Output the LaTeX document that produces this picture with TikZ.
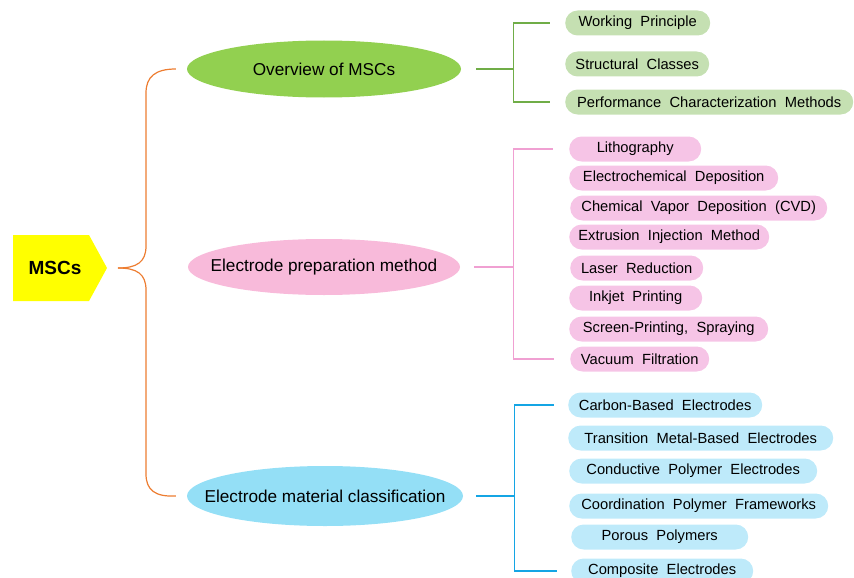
\documentclass[tikz,border=0pt]{standalone}
\usepackage{fontspec}
\setmainfont{Liberation Sans}
\usepackage{tikz}
\usetikzlibrary{shapes.geometric}

\definecolor{mscyellow}{RGB}{255,255,0}
\definecolor{bracecol}{RGB}{237,125,49}
\definecolor{ovwfill}{RGB}{146,208,80}
\definecolor{ovwleaf}{RGB}{197,224,178}
\definecolor{ovwline}{RGB}{112,173,71}
\definecolor{prepfill}{RGB}{248,186,218}
\definecolor{prepleaf}{RGB}{246,196,230}
\definecolor{prepline}{RGB}{240,160,210}
\definecolor{matfill}{RGB}{148,223,246}
\definecolor{matleaf}{RGB}{190,234,250}
\definecolor{matline}{RGB}{20,165,228}

\newcommand{\ctext}[1]{\makebox[0pt]{#1}}
\newcommand{\leaffont}{\fontsize{14.7}{16}\selectfont\spaceskip=8.3pt plus 1pt minus 1pt\relax}

\begin{document}
\begin{tikzpicture}[x=1pt,y=-1pt,
  mainnode/.style={ellipse, inner sep=0pt, minimum height=57pt, font=\fontsize{17.2}{19}\selectfont},
  leafnode/.style={anchor=west, rounded corners=12.5pt, minimum height=25pt, inner sep=0pt, font=\leaffont},
  bracelink/.style={bracecol, line width=1.2pt},
  treelink/.style={line width=1.2pt}]
\useasboundingbox (0,0) rectangle (854,578);

% root
\fill[mscyellow] (13,235) -- (89,235) -- (107,268) -- (89,301) -- (13,301) -- cycle;
\node[font=\fontsize{19}{21}\selectfont\bfseries] (msc) at (55,268) {MSCs};
\coordinate (msctip) at (118,268);

% main branches
\node[mainnode, fill=ovwfill, minimum width=274pt] (ovw) at (324,69) {\ctext{Overview of MSCs}};
\node[mainnode, fill=prepfill, minimum width=272pt, minimum height=56pt] (prep) at (324,267) {\ctext{Electrode preparation method}};
\node[mainnode, fill=matfill, minimum width=276pt, minimum height=60pt] (mat) at (325,496) {\ctext{Electrode material classification}};

\draw[bracelink] (msctip) .. controls (137,268) and (146,262) .. (146,246) -- (146,93) .. controls (146,77) and (155,69) .. ([xshift=-11pt]ovw.west);
\draw[bracelink] (msctip) .. controls (137,268) and (146,274) .. (146,290) -- (146,474) .. controls (146,490) and (155,497) .. ([xshift=-11pt]mat.west);

% overview leaves
\node[leafnode, fill=ovwleaf, minimum width=145pt] (wp) at (565,23) {Working Principle};
\node[leafnode, fill=ovwleaf, minimum width=144pt] (sc) at (565,64) {Structural Classes};
\node[leafnode, fill=ovwleaf, minimum width=288pt] (pcm) at (565,102) {Performance Characterization Methods};

% preparation leaves
\node[leafnode, fill=prepleaf, minimum width=132pt] (litho) at (569,149) {Lithography};
\node[leafnode, fill=prepleaf, minimum width=209pt] (ecd) at (569,178) {Electrochemical Deposition};
\node[leafnode, fill=prepleaf, minimum width=257pt] (cvd) at (570,208) {Chemical Vapor Deposition (CVD)};
\node[leafnode, fill=prepleaf, minimum width=200pt] (eim) at (569,237) {Extrusion Injection Method};
\node[leafnode, fill=prepleaf, minimum width=133pt] (laser) at (570,268) {Laser Reduction};
\node[leafnode, fill=prepleaf, minimum width=133pt] (inkjet) at (569,298) {Inkjet Printing};
\node[leafnode, fill=prepleaf, minimum width=199pt] (screen) at (569,329) {Screen-Printing, Spraying};
\node[leafnode, fill=prepleaf, minimum width=139pt] (vacuum) at (570,359) {Vacuum Filtration};

% material leaves
\node[leafnode, fill=matleaf, minimum width=194pt] (carbon) at (568,405) {Carbon-Based Electrodes};
\node[leafnode, fill=matleaf, minimum width=265pt] (tmetal) at (568,438) {Transition Metal-Based Electrodes};
\node[leafnode, fill=matleaf, minimum width=248pt] (cpe) at (569,471) {Conductive Polymer Electrodes};
\node[leafnode, fill=matleaf, minimum width=259pt] (cpf) at (569,506) {Coordination Polymer Frameworks};
\node[leafnode, fill=matleaf, minimum width=177pt] (porous) at (571,537) {Porous Polymers};
\node[leafnode, fill=matleaf, minimum width=182pt] (comp) at (571,571) {Composite Electrodes};

% connectors
\draw[treelink, ovwline] ([xshift=15pt]ovw.east) -- ++(37,0) coordinate (ovwj);
\foreach \n in {wp,pcm}
  \draw[treelink, ovwline] (ovwj) |- ([xshift=-15pt]\n.west);
\draw[treelink, prepline] ([xshift=14pt]prep.east) -- ++(39,0) coordinate (prepj);
\foreach \n in {litho,vacuum}
  \draw[treelink, prepline] (prepj) |- ([xshift=-16pt]\n.west);
\draw[treelink, matline] ([xshift=13pt]mat.east) -- ++(38,0) coordinate (matj);
\foreach \n in {carbon,comp}
  \draw[treelink, matline] (matj) |- ([xshift=-14pt]\n.west);
\end{tikzpicture}
\end{document}
